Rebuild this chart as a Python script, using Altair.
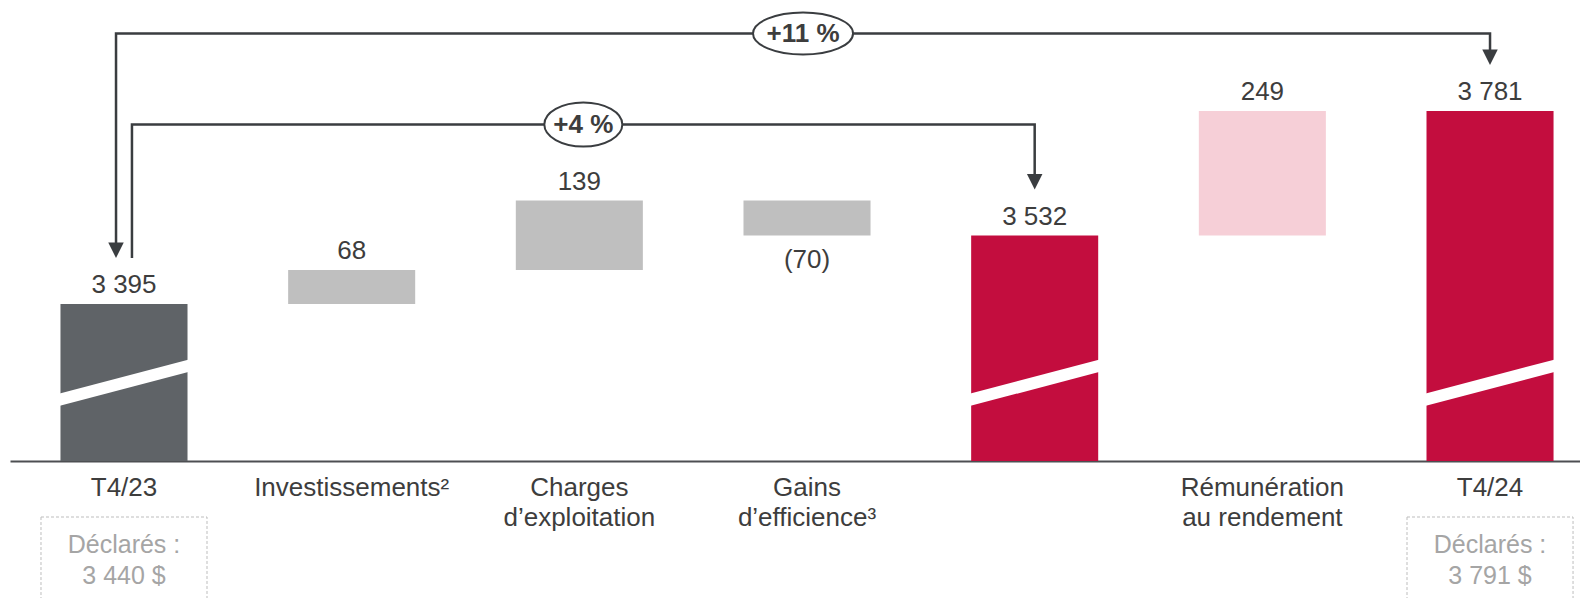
import altair as alt
import pandas as pd

# ---------------- data ----------------
categories = [
    "T4/23",
    "Investissements²",
    "Charges\nd’exploitation",
    "Gains\nd’efficience³",
    "",
    "Rémunération\nau rendement",
    "T4/24",
]
amounts = [3395, 68, 139, -70, 3532, 249, 3781]
kinds = ["open", "step", "step", "step", "subtotal", "bonus", "close"]

reported_at = [0, 6]
reported_text = ["Déclarés :\n3 440 $", "Déclarés :\n3 791 $"]

growth_labels = ["+11 %", "+4 %"]
growth_from = [0, 0]
growth_to = [6, 4]

# ---------------- layout / style ----------------
FONT = "Liberation Sans"
TEXT = "#3d3d3d"
LINE = "#3a3d40"
Y_MIN, Y_MAX = 3081, 4003          # broken value axis
X_DOMAIN = [-0.5007, 6.3952]
HALF = 0.279                       # half bar width (category units)
BREAK_LO, BREAK_HI = 3204, 3271    # axis-break slash across full bars
TIP_GAP = 92                       # arrow tip above bar top (value units)
HEAD = 20                          # line stops inside arrow head
bracket_level = [3936, 3754]
bracket_from_off = [-0.035, 0.035]
bracket_from_head = [True, False]
ellipse_w = [100, 78]
ellipse_h = [42, 44]

kind_domain = ["open", "step", "subtotal", "bonus", "close"]
kind_range = ["#5f6367", "#bfbfbf", "#c30d3e", "#f6cfd7", "#c30d3e"]

# ---------------- waterfall frame ----------------
rows, run = [], 0
for i, (cat, amt, kind) in enumerate(zip(categories, amounts, kinds)):
    if kind in ("open", "subtotal", "close"):
        lo, hi = Y_MIN, amt
        run = amt
        label = f"{amt:,}".replace(",", " ")
    else:
        lo, hi = sorted([run, run + amt])
        run += amt
        label = str(amt) if amt >= 0 else f"({-amt})"
    rows.append(dict(idx=i, x=i - HALF, x2=i + HALF, lo=lo, hi=hi, kind=kind,
                     label=label, side="above" if amt >= 0 else "below",
                     cat=cat, full=kind in ("open", "subtotal", "close")))
bars = pd.DataFrame(rows)
top = dict(zip(bars.idx, bars.hi))

slash = bars[bars.full].assign(
    sx=lambda d: d.idx - HALF - 0.03, sx2=lambda d: d.idx + HALF + 0.03,
    sy=BREAK_LO - 3.6, sy2=BREAK_HI + 3.6)

# brackets (growth arrows)
path_rows, head_rows, badge_rows = [], [], []
for b, (lab, f, t) in enumerate(zip(growth_labels, growth_from, growth_to)):
    xs = f + bracket_from_off[b]
    xe = t
    ys = top[f] + TIP_GAP
    ye = top[t] + TIP_GAP
    lvl = bracket_level[b]
    pts = [(xs, ys + (HEAD if bracket_from_head[b] else 0)), (xs, lvl), (xe, lvl), (xe, ye + HEAD)]
    for k, (px, py) in enumerate(pts):
        path_rows.append(dict(b=b, step=k, x=px, y=py))
    if bracket_from_head[b]:
        head_rows.append(dict(x=xs, y=ys))
    head_rows.append(dict(x=xe, y=ye))
    r = ellipse_h[b] / ellipse_w[b]
    badge_rows.append(dict(x=(xs + xe) / 2, y=lvl, label=lab,
                           shape=f"M-1,0A1,{r:.3f},0,1,1,1,0A1,{r:.3f},0,1,1,-1,0Z",
                           size=ellipse_w[b] ** 2))
paths = pd.DataFrame(path_rows)
heads = pd.DataFrame(head_rows)
badges = pd.DataFrame(badge_rows)

reported = pd.DataFrame(dict(idx=reported_at, text=reported_text)).assign(
    bx=lambda d: d.idx - 0.3646, bx2=lambda d: d.idx + 0.3646)

# ---------------- encodings ----------------
XS = alt.Scale(domain=X_DOMAIN, nice=False, zero=False)
YS = alt.Scale(domain=[Y_MIN, Y_MAX], nice=False, zero=False)
XAX = alt.Axis(domain=True, domainColor="#4d4f52", domainWidth=2, ticks=False,
               labels=False, grid=False)


def X(field):
    return alt.X(field, type="quantitative", scale=XS, axis=XAX, title=None)


def X2(field):
    return alt.X2(field)


def Y(field):
    return alt.Y(field, type="quantitative", scale=YS, axis=None)


bar_layer = alt.Chart(bars).mark_rect().encode(
    x=X("x"), x2=X2("x2"), y=Y("lo"), y2=alt.Y2("hi"),
    color=alt.Color("kind:N", scale=alt.Scale(domain=kind_domain, range=kind_range), legend=None),
)

slash_layer = alt.Chart(slash).mark_rule(color="white", strokeWidth=12, strokeCap="butt").encode(
    x=X("sx"), x2=X2("sx2"), y=Y("sy"), y2=alt.Y2("sy2"))

above = alt.Chart(bars).transform_filter("datum.side == 'above'").mark_text(
    font=FONT, fontSize=26, color=TEXT, baseline="alphabetic", dy=-11).encode(
    x=X("idx"), y=Y("hi"), text="label:N")

below = alt.Chart(bars).transform_filter("datum.side == 'below'").mark_text(
    font=FONT, fontSize=26, color=TEXT, baseline="alphabetic", dy=32).encode(
    x=X("idx"), y=Y("lo"), text="label:N")

path_layer = alt.Chart(paths).mark_line(color=LINE, strokeWidth=2.5, strokeJoin="miter").encode(
    x=X("x"), y=Y("y"), detail="b:N", order="step:Q")

head_layer = alt.Chart(heads).mark_point(
    shape="M-1,-2L1,-2L0,0Z", size=240, filled=True, color=LINE, opacity=1).encode(
    x=X("x"), y=Y("y"))

badge_layer = alt.Chart(badges).mark_point(
    fill="white", stroke=LINE, strokeWidth=2, opacity=1, fillOpacity=1).encode(
    x=X("x"), y=Y("y"),
    shape=alt.Shape("shape:N", scale=None),
    size=alt.Size("size:Q", scale=None))

badge_text = alt.Chart(badges).mark_text(
    font=FONT, fontSize=26, fontWeight="bold", color=TEXT, baseline="middle").encode(
    x=X("x"), y=Y("y"), text="label:N")

cat_layer = alt.Chart(bars).mark_text(
    font=FONT, fontSize=26, color=TEXT, baseline="alphabetic", lineBreak="\n",
    lineHeight=30).encode(x=X("idx"), y=alt.value(496), text="cat:N")

box_layer = alt.Chart(reported).mark_rect(
    fillOpacity=0, stroke="#bdbdbd", strokeWidth=1, strokeDash=[3, 2]).encode(
    x=X("bx"), x2=X2("bx2"), y=alt.value(517), y2=alt.value(650))

box_text = alt.Chart(reported).mark_text(
    font=FONT, fontSize=25, color="#a5a5a5", baseline="alphabetic", lineBreak="\n",
    lineHeight=31).encode(x=X("idx"), y=alt.value(553), text="text:N")

chart = alt.layer(
    bar_layer, slash_layer, above, below, path_layer, head_layer,
    badge_layer, badge_text, cat_layer, box_layer, box_text,
).properties(
    width=1570, height=461,
    autosize=alt.AutoSizeParams(type="none"),
    padding={"left": 10, "top": 0, "right": 0, "bottom": 137},
).configure(font=FONT, background="white").configure_view(stroke="transparent", strokeWidth=0)

chart.save("out.html", embed_options={"renderer": "svg", "actions": False})
